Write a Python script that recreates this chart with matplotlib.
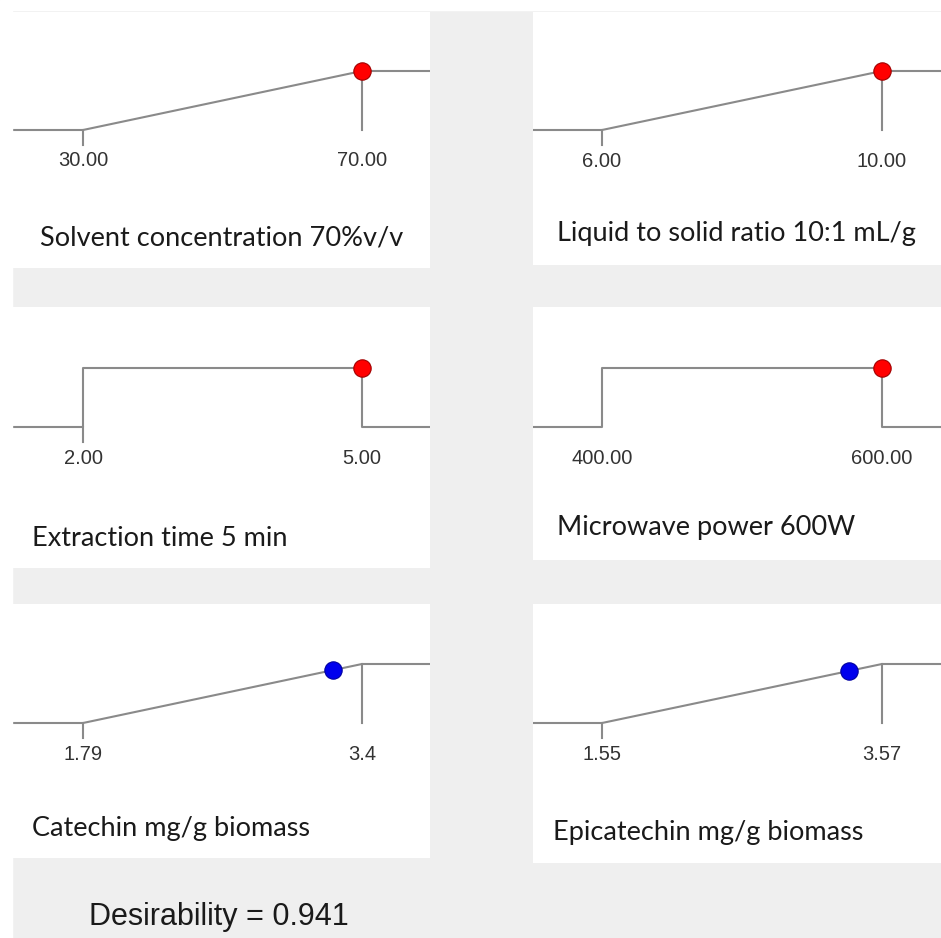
import matplotlib.pyplot as plt
from matplotlib.patches import Rectangle

# desirability ramps: factors (top four) and responses (bottom two)
names = ["Solvent concentration 70%v/v", "Liquid to solid ratio 10:1 mL/g",
         "Extraction time 5 min", "Microwave power 600W",
         "Catechin mg/g biomass", "Epicatechin mg/g biomass"]
lows = [30.00, 6.00, 2.00, 400.00, 1.79, 1.55]
highs = [70.00, 10.00, 5.00, 600.00, 3.4, 3.57]
low_labels = ["30.00", "6.00", "2.00", "400.00", "1.79", "1.55"]
high_labels = ["70.00", "10.00", "5.00", "600.00", "3.4", "3.57"]
goals = ["max", "max", "range", "range", "max", "max"]
solution = [70.00, 10.00, 5.00, 600.00, 3.23, 3.33]
point_colors = ["#ff0000", "#ff0000", "#ff0000", "#ff0000", "#0000ee", "#0000ee"]
desirability = 0.941

W, H = 941, 938
LINE = "#8a8a8a"

# panel boxes in pixels: left, top, right, bottom, tick-lo x, tick-hi x, d=0 y
boxes = [
    (13, 12, 430, 268, 83, 362, 130),
    (533, 12, 941, 265, 602, 882, 130),
    (13, 307, 430, 568, 83, 362, 427),
    (533, 307, 941, 560, 602, 882, 427),
    (13, 604, 430, 858, 83, 362, 723),
    (533, 604, 941, 863, 602, 882, 723),
]
label_pos = [(40, 238), (557, 233), (32, 538), (557, 528), (32, 828), (553, 832)]
UNIT = 59  # pixels for desirability 0 -> 1

fig = plt.figure(figsize=(W / 100, H / 100), dpi=100)
fig.patch.set_facecolor("#efefef")
fig.patches.append(Rectangle((0, 1 - 10 / H), 1, 10 / H, transform=fig.transFigure,
                             color="white", zorder=0))
fig.patches.append(Rectangle((0, 0), 12 / W, 1, transform=fig.transFigure,
                             color="white", zorder=0))

for i, (l, t, r, b, px_lo, px_hi, y0) in enumerate(boxes):
    ax = fig.add_axes([l / W, 1 - b / H, (r - l) / W, (b - t) / H])
    ax.set_facecolor("white")
    for s in ax.spines.values():
        s.set_visible(False)
    ax.set_xticks([])
    ax.set_yticks([])

    lo, hi = lows[i], highs[i]
    per_px = (hi - lo) / (px_hi - px_lo)
    xmin = lo - (px_lo - l) * per_px
    xmax = hi + (r - px_hi) * per_px
    ax.set_xlim(xmin, xmax)
    ax.set_ylim(-(b - y0) / UNIT, 1 + (y0 - UNIT - t) / UNIT)

    tick = 15 / UNIT
    if goals[i] == "max":
        ax.plot([xmin, lo, hi, xmax], [0, 0, 1, 1], color=LINE, lw=1.5)
        ax.plot([lo, lo], [0, -tick], color=LINE, lw=1.5)
        ax.plot([hi, hi], [1, 0], color=LINE, lw=1.5)
        d = min(1.0, max(0.0, (solution[i] - lo) / (hi - lo)))
    else:
        ax.plot([xmin, lo, lo, hi, hi, xmax], [0, 0, 1, 1, 0, 0], color=LINE, lw=1.5)
        if i == 2:
            ax.plot([lo, lo], [0, -tick], color=LINE, lw=1.5)
        d = 1.0
    ax.plot(solution[i], d, "o", ms=12.5, mfc=point_colors[i],
            mec="#a00000" if point_colors[i] == "#ff0000" else "#0000a0", mew=0.8,
            zorder=5, clip_on=False)

    ax.text(lo, -31 / UNIT, low_labels[i], ha="center", va="center",
            fontsize=14.5, color="#333333", family="Liberation Sans")
    ax.text(hi, -31 / UNIT, high_labels[i], ha="center", va="center",
            fontsize=14.5, color="#333333", family="Liberation Sans")

    lx, ly = label_pos[i]
    fig.text(lx / W, 1 - ly / H, names[i], ha="left", va="center",
             fontsize=19.5, color="#1a1a1a", family="Lato")

fig.text(219 / W, 1 - 917 / H, f"Desirability = {desirability:.3f}", ha="center",
         va="center", fontsize=22, color="#1a1a1a", family="Liberation Sans")

fig.savefig("out.png", dpi=100, facecolor=fig.get_facecolor())
